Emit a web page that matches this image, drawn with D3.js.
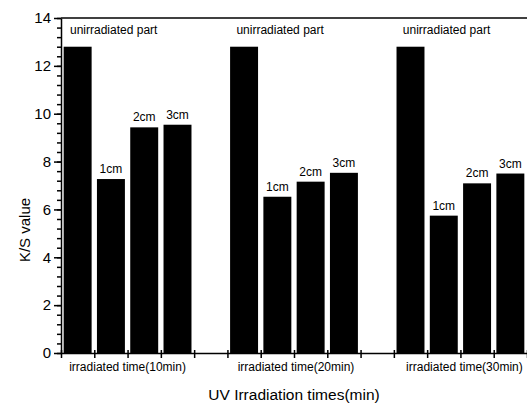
<!DOCTYPE html>
<html>
<head>
<meta charset="utf-8">
<title>K/S value</title>
<style>
    body { margin: 0; background: #fff; }
    svg { font-family: 'Liberation Sans', Arial, sans-serif; }
    .tick text { font-size: 15px; fill: #000; }
    .domain, .tick line { stroke: #000; stroke-width: 1.5; }
</style>
</head>
<body>
<figure style="margin:0"></figure>
<script src="https://d3js.org/d3.v7.min.js"></script>
<script>
    // data
    const groups = ["irradiated time(10min)", "irradiated time(20min)", "irradiated time(30min)"]
    const parts = ["unirradiated part", "1cm", "2cm", "3cm"]
    const values10 = [12.8, 7.27, 9.43, 9.54]
    const values20 = [12.8, 6.53, 7.16, 7.53]
    const values30 = [12.8, 5.74, 7.09, 7.50]
    const yTicks = [0, 2, 4, 6, 8, 10, 12, 14]

    const allValues = [values10, values20, values30]

    // one slot per bar, an empty slot between groups
    const bars = []
    allValues.forEach(function (vals, g) {
        vals.forEach(function (v, i) {
            bars.push({ group: g, part: i, slot: g * 5 + i, value: v })
        })
    })

    const W = 527, H = 403
    const margin = { left: 61, right: 0, top: 18, bottom: 50 }
    const innerW = W - margin.left - margin.right
    const innerH = H - margin.top - margin.bottom

    const svg = d3.select('figure').append('svg')
        .attr('width', W).attr('height', H)

    const g = svg.append('g')
        .attr('transform', `translate(${margin.left},${margin.top})`)

    const x = d3.scaleLinear().domain([0, 14]).range([0, innerW])
    const y = d3.scaleLinear().domain([0, 14]).range([innerH, 0])

    // bars
    const pad = 0.08
    g.selectAll('rect.bar')
        .data(bars)
        .enter()
        .append('rect')
        .attr('class', 'bar')
        .attr('x', d => x(d.slot + pad))
        .attr('width', d => x(1 - 2 * pad) - x(0))
        .attr('y', d => y(d.value))
        .attr('height', d => y(0) - y(d.value))
        .attr('fill', '#000')

    // bar labels
    g.selectAll('text.lab')
        .data(bars)
        .enter()
        .append('text')
        .attr('class', 'lab')
        .attr('x', d => d.part === 0 ? x(d.slot) + 9 : x(d.slot + 0.5))
        .attr('y', d => d.part === 0 ? y(13.35) : y(d.value) - 6)
        .attr('text-anchor', d => d.part === 0 ? 'start' : 'middle')
        .style('font-size', '12px')
        .text(d => parts[d.part])

    // y axis, with minor ticks
    g.append('g')
        .call(d3.axisLeft(y).tickValues(d3.range(0, 14.01, 0.4)).tickSize(4).tickFormat(''))
        .call(s => s.select('.domain').remove())
    g.append('g')
        .call(d3.axisLeft(y).tickValues(yTicks).tickSize(7).tickSizeOuter(0).tickPadding(3))

    // x axis
    g.append('g')
        .attr('transform', `translate(0,${innerH})`)
        .call(d3.axisBottom(x).ticks(14).tickSize(5).tickSizeOuter(0).tickFormat(''))
        .call(s => s.selectAll('.tick line').attr('y1', -3))

    // top frame
    g.append('line')
        .attr('x1', 0).attr('x2', innerW)
        .attr('y1', 0).attr('y2', 0)
        .attr('stroke', '#000').attr('stroke-width', 1.5)

    // group labels
    g.selectAll('text.grp')
        .data(groups)
        .enter()
        .append('text')
        .attr('class', 'grp')
        .attr('x', (d, i) => x(i * 5 + 2) + i * 2)
        .attr('y', innerH + 18)
        .attr('text-anchor', 'middle')
        .style('font-size', '12px')
        .text(d => d)

    // axis titles
    svg.append('text')
        .attr('x', margin.left + x(7))
        .attr('y', 400)
        .attr('text-anchor', 'middle')
        .style('font-size', '15.5px')
        .text('UV Irradiation times(min)')

    svg.append('text')
        .attr('transform', 'translate(30,230) rotate(-90)')
        .attr('text-anchor', 'middle')
        .style('font-size', '15px')
        .text('K/S value')
</script>
</body>
</html>
